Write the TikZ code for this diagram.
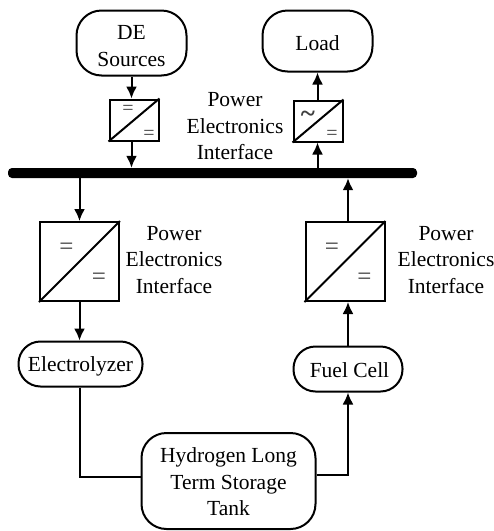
\documentclass[tikz,border=0pt]{standalone}
\usepackage{fontspec}
\setmainfont{Liberation Serif}
\usetikzlibrary{calc,arrows.meta}

\newcommand{\lowerby}[1]{\rule{0pt}{#1}}

\tikzset{
  label text/.style={align=center,font=\fontsize{21.5}{26.5}\selectfont,inner sep=0pt},
  rounded block/.style={draw,line width=2pt,align=center,font=\fontsize{21.5}{26.5}\selectfont,inner sep=0pt},
  converter/.style={draw,line width=2pt,inner sep=0pt},
  symbol/.style={inner sep=0pt,text=black!75},
  link/.style={line width=2pt},
  flow/.style={line width=2pt,-{Latex[length=12pt,width=11pt]}}
}

\begin{document}
\begin{tikzpicture}[x=1pt,y=-1pt]
  \useasboundingbox (0,0) rectangle (494,531);

  %% Sources, loads and storage
  \node[rounded block,rounded corners=25pt,minimum width=110pt,minimum height=65pt] (SRC) at (131.5,43) {\lowerby{20pt}DE\\Sources};
  \node[rounded block,rounded corners=25pt,minimum width=110pt,minimum height=61pt] (LOAD) at (317.5,41) {\lowerby{19pt}Load};
  \node[rounded block,rounded corners=22pt,minimum width=124pt,minimum height=45pt] (ELEC) at (80.5,364) {\lowerby{19pt}Electrolyzer};
  \node[rounded block,rounded corners=22pt,minimum width=109pt,minimum height=45pt] (FUEL) at (348,369) {\lowerby{17pt}\hspace{3pt}Fuel Cell};
  \node[rounded block,rounded corners=25pt,minimum width=174pt,minimum height=96pt] (TANK) at (228.5,481) {\lowerby{17pt}Hydrogen Long\\Term Storage\\Tank};

  %% The bus
  \node[fill=black,rounded corners=4pt,minimum width=409pt,minimum height=10pt,inner sep=0pt] (BUS) at (212.5,173) {};

  %% Building the converter boxes
  \foreach \name/\x/\y/\w/\h in {DCA/134/120/49/41,DCB/318/121/49/41,DCC/79.5/261.5/79/79,DCD/345/261.5/79/79}
  {
    \node[converter,minimum width=\w pt,minimum height=\h pt] (\name) at (\x,\y) {};
    \draw[link] (\name.south west) -- (\name.north east);
  }

  %% Symbols inside the converters
  \node[symbol,font=\fontsize{20}{20}\selectfont] (DCAin) at ($(DCA)+(-6,-10)$) {=};
  \node[symbol,font=\fontsize{20}{20}\selectfont] (DCAout) at ($(DCA)+(15,15)$) {=};
  \node[symbol,font=\fontsize{27}{27}\selectfont\bfseries] (DCBin) at ($(DCB)+(-10,-4)$) {\textasciitilde};
  \node[symbol,font=\fontsize{20}{20}\selectfont] (DCBout) at ($(DCB)+(14,14)$) {=};
  \foreach \name in {DCC,DCD}
  {
    \node[symbol,font=\fontsize{25}{25}\selectfont] (\name in) at ($(\name)+(-13,-13)$) {=};
    \node[symbol,font=\fontsize{25}{25}\selectfont] (\name out) at ($(\name)+(19.5,17)$) {=};
  }

  %% Label columns:
  \node[label text] (PEA) at (235,126.5) {Power\\Electronics\\Interface};
  \node[label text] (PEB) at (174,260) {Power\\Electronics\\Interface};
  \node[label text] (PEC) at (446,260) {Power\\Electronics\\Interface};

  %% Drawing arrows
  \draw[flow] (SRC.south) -- (SRC.south |- DCA.north);
  \draw[flow] (SRC.south |- DCA.south) -- (SRC.south |- BUS.north);
  \draw[flow] (LOAD.south |- DCB.north) -- (LOAD.south);
  \draw[flow] (LOAD.south |- BUS.north) -- (LOAD.south |- DCB.south);
  \draw[flow] (DCC.north |- BUS.south) -- (DCC.north);
  \draw[flow] (DCC.south) -- (DCC.south |- ELEC.north);
  \draw[flow] (FUEL.north) -- (FUEL.north |- DCD.south);
  \draw[flow] (FUEL.north |- DCD.north) -- (FUEL.north |- BUS.south);
  \draw[link] (DCC.south |- ELEC.south) |- ($(TANK.west)+(0,-4)$);
  \draw[flow] ($(TANK.east)+(0,-6)$) -| (FUEL.south);
\end{tikzpicture}
\end{document}
